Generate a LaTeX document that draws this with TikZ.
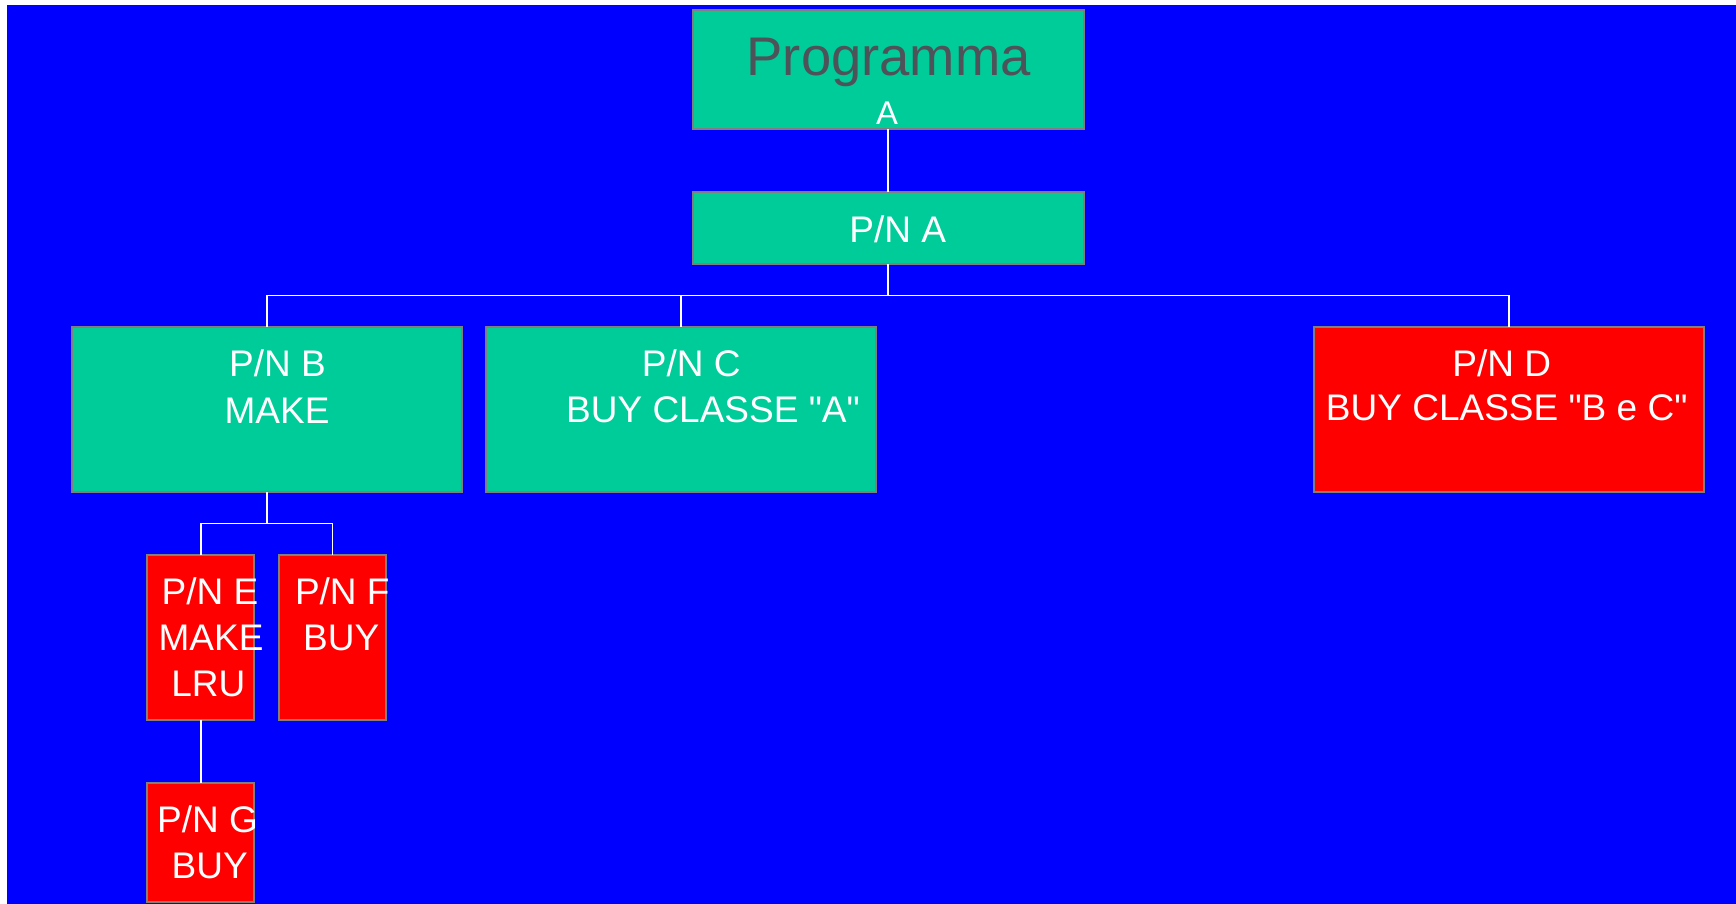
\documentclass[tikz,border=0pt]{standalone}
\usepackage{fontspec}
\setmainfont{Liberation Sans}[Ligatures=TeXOff]
\definecolor{bgblue}{HTML}{0000FF}
\definecolor{boxgreen}{HTML}{00CC99}
\definecolor{boxred}{HTML}{FF0000}
\definecolor{edgegray}{HTML}{7F7F7F}
\definecolor{titlegray}{HTML}{4D5359}
\tikzset{
  box/.style={draw=edgegray, line width=1pt, inner sep=0pt, outer sep=0pt, anchor=north west, rectangle},
  greenbox/.style={box, fill=boxgreen},
  redbox/.style={box, fill=boxred},
  txt/.style={anchor=base, inner sep=0pt, text=white, font=\fontsize{18.5}{22}\selectfont},
  link/.style={draw=white, line width=0.8pt},
}
\begin{document}
\begin{tikzpicture}[x=0.5pt, y=-0.5pt]
  % page and blue backdrop
  \fill[white] (0,0) rectangle (1736,904);
  \useasboundingbox (0,0) rectangle (1736,904);
  \fill[bgblue] (7,5) rectangle (1736,904);

  % boxes
  \node[greenbox, minimum width=195.5pt, minimum height=59.65pt] (prog) at (692.7,10) {};
  \node[greenbox, minimum width=195.5pt, minimum height=36.3pt] (pa) at (692.7,191.7) {};
  \node[greenbox, minimum width=195pt, minimum height=82.65pt] (pb) at (71.7,326.7) {};
  \node[greenbox, minimum width=194.85pt, minimum height=82.65pt] (pc) at (486,326.7) {};
  \node[redbox, minimum width=195pt, minimum height=82.35pt] (pd) at (1314,327) {};
  \node[redbox, minimum width=53.5pt, minimum height=82.35pt] (pe) at (147.3,555) {};
  \node[redbox, minimum width=53.5pt, minimum height=82.35pt] (pf) at (279,555) {};
  \node[redbox, minimum width=53.5pt, minimum height=59.35pt] (pg) at (147.3,783) {};

  % connectors: two horizontal buses
  \coordinate (levelA) at (0,295.3);
  \coordinate (levelB) at (0,523.3);
  \coordinate (busA) at (pa.south |- levelA);
  \coordinate (busB) at (pb.south |- levelB);
  \draw[link] (prog.south) -- (pa.north);
  \draw[link] (pa.south) -- (busA);
  \draw[link] (pb.north) |- (busA) -| (pd.north);
  \draw[link] (pc.north) -- (pc.north |- busA);
  \draw[link] (pb.south) -- (busB);
  \draw[link] (pe.north) |- (busB) -| (pf.north);
  \draw[link] (pe.south) -- (pg.north);

  % labels
  \node[txt, text=titlegray, font=\fontsize{27.2}{32}\selectfont] (tprog) at (888.7,76) {Programma};
  \node[txt, font=\fontsize{16.4}{20}\selectfont] (tproga) at (887,125) {A};
  \node[txt] (ta) at (897.8,242.3) {P/N A};
  \node[txt] (tb1) at (277.5,376.7) {P/N B};
  \node[txt] (tb2) at (277,423.3) {MAKE};
  \node[txt] (tc1) at (691.3,376.7) {P/N C};
  \node[txt] (tc2) at (713,422.3) {BUY CLASSE "A"};
  \node[txt] (td1) at (1501.7,376) {P/N D};
  \node[txt] (td2) at (1506.7,420.7) {BUY CLASSE "B e C"};
  \node[txt] (te1) at (210,604) {P/N E};
  \node[txt] (te2) at (211,650.7) {MAKE};
  \node[txt] (te3) at (208.3,696.7) {LRU};
  \node[txt] (tf1) at (342.3,604) {P/N F};
  \node[txt] (tf2) at (341.2,650.7) {BUY};
  \node[txt] (tg1) at (207.5,832.3) {P/N G};
  \node[txt] (tg2) at (209.7,878.3) {BUY};
\end{tikzpicture}
\end{document}
